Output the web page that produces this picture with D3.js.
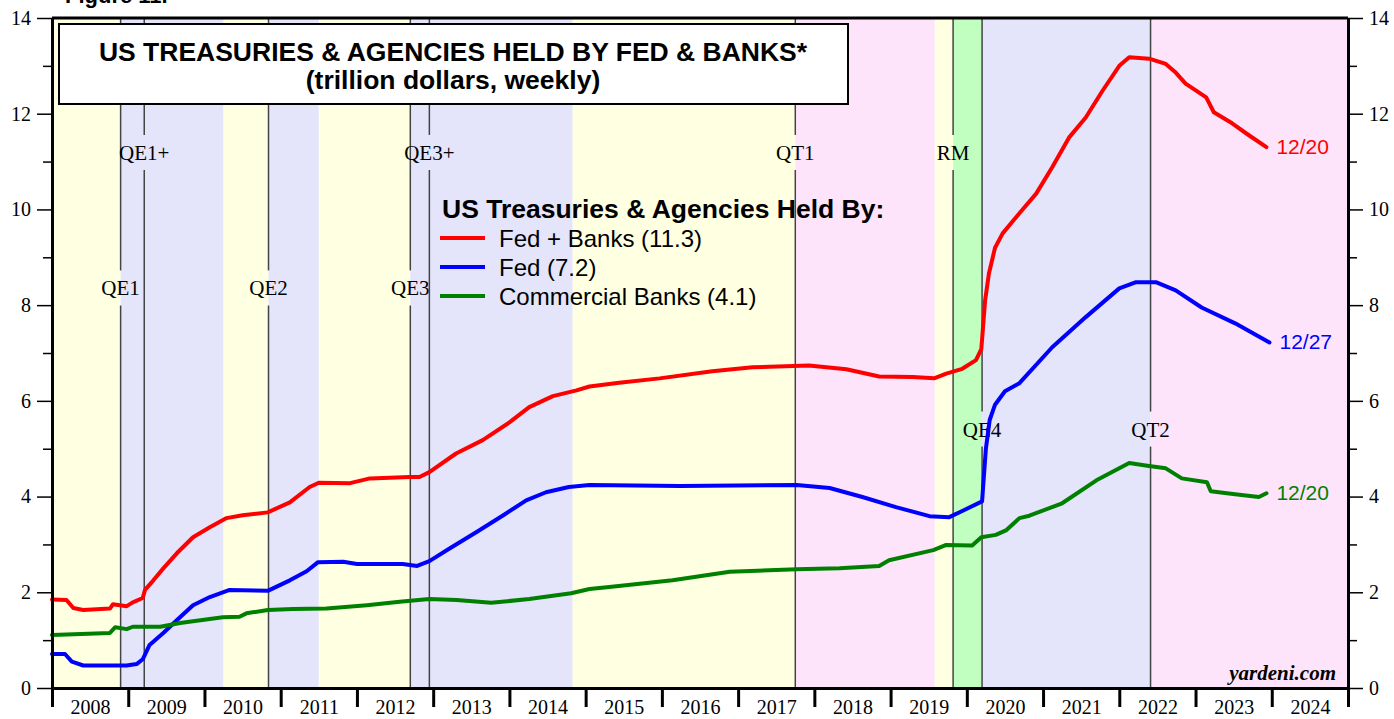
<!DOCTYPE html>
<html>
<head>
<meta charset="utf-8">
<script src="https://cdnjs.cloudflare.com/ajax/libs/d3/7.8.5/d3.min.js"></script>
<style>
  body { margin: 0; background: #fff; }
</style>
</head>
<body>
<div id="chart"></div>
<script>
// values: decimal years, trillion dollars
var fedBanksT = [2008.0, 2008.19, 2008.28, 2008.41, 2008.76, 2008.80, 2008.98, 2009.06, 2009.19, 2009.22, 2009.33, 2009.46, 2009.64, 2009.85, 2010.07, 2010.29, 2010.50, 2010.83, 2011.12, 2011.38, 2011.50, 2011.91, 2012.17, 2012.69, 2012.82, 2012.95, 2013.30, 2013.65, 2014.00, 2014.26, 2014.57, 2014.88, 2015.05, 2015.44, 2015.97, 2016.66, 2017.19, 2017.93, 2018.42, 2018.85, 2019.29, 2019.57, 2019.73, 2019.94, 2020.12, 2020.19, 2020.24, 2020.29, 2020.37, 2020.47, 2020.69, 2020.91, 2021.12, 2021.34, 2021.56, 2021.78, 2022.00, 2022.13, 2022.39, 2022.61, 2022.74, 2022.87, 2023.14, 2023.24, 2023.48, 2023.70, 2023.93];
var fedBanksV = [1.85, 1.84, 1.67, 1.63, 1.66, 1.75, 1.71, 1.79, 1.88, 2.05, 2.25, 2.50, 2.82, 3.15, 3.36, 3.55, 3.61, 3.67, 3.88, 4.20, 4.29, 4.28, 4.38, 4.41, 4.41, 4.51, 4.90, 5.18, 5.55, 5.87, 6.10, 6.22, 6.30, 6.38, 6.47, 6.62, 6.70, 6.74, 6.66, 6.51, 6.50, 6.47, 6.57, 6.67, 6.85, 7.08, 8.10, 8.66, 9.20, 9.50, 9.92, 10.33, 10.88, 11.50, 11.92, 12.48, 13.00, 13.18, 13.15, 13.04, 12.86, 12.63, 12.34, 12.03, 11.80, 11.55, 11.30];

var fedT = [2008.0, 2008.17, 2008.26, 2008.41, 2008.98, 2009.11, 2009.19, 2009.28, 2009.46, 2009.64, 2009.85, 2010.07, 2010.33, 2010.83, 2011.12, 2011.34, 2011.49, 2011.82, 2012.0, 2012.6, 2012.79, 2012.95, 2013.22, 2013.57, 2013.92, 2014.22, 2014.48, 2014.78, 2015.05, 2016.24, 2017.77, 2018.2, 2018.63, 2019.07, 2019.51, 2019.77, 2019.94, 2020.2, 2020.25, 2020.3, 2020.37, 2020.5, 2020.69, 2021.12, 2021.56, 2022.0, 2022.22, 2022.48, 2022.74, 2023.08, 2023.52, 2023.97];
var fedV = [0.71, 0.71, 0.55, 0.47, 0.47, 0.50, 0.60, 0.90, 1.15, 1.42, 1.73, 1.90, 2.05, 2.03, 2.25, 2.44, 2.63, 2.64, 2.59, 2.59, 2.55, 2.65, 2.92, 3.26, 3.61, 3.92, 4.09, 4.20, 4.24, 4.22, 4.24, 4.18, 3.99, 3.78, 3.59, 3.57, 3.70, 3.90, 5.00, 5.60, 5.92, 6.20, 6.37, 7.12, 7.75, 8.35, 8.48, 8.48, 8.31, 7.95, 7.62, 7.22];

var banksT = [2008.0, 2008.76, 2008.83, 2008.98, 2009.06, 2009.42, 2009.68, 2010.24, 2010.46, 2010.55, 2010.83, 2011.16, 2011.6, 2012.13, 2012.56, 2012.95, 2013.31, 2013.76, 2014.26, 2014.81, 2015.05, 2015.31, 2016.14, 2016.89, 2017.77, 2018.33, 2018.85, 2018.98, 2019.56, 2019.73, 2020.07, 2020.19, 2020.38, 2020.52, 2020.69, 2020.82, 2021.25, 2021.7, 2022.13, 2022.39, 2022.61, 2022.82, 2023.15, 2023.2, 2023.52, 2023.83, 2023.93];
var banksV = [1.11, 1.15, 1.27, 1.23, 1.28, 1.28, 1.36, 1.48, 1.49, 1.56, 1.63, 1.65, 1.66, 1.73, 1.80, 1.86, 1.84, 1.78, 1.86, 1.98, 2.07, 2.11, 2.25, 2.43, 2.48, 2.50, 2.55, 2.67, 2.88, 2.99, 2.98, 3.15, 3.20, 3.30, 3.55, 3.60, 3.86, 4.34, 4.70, 4.64, 4.59, 4.38, 4.30, 4.11, 4.05, 3.99, 4.07];

var seriesNames = ["Fed + Banks (11.3)", "Fed (7.2)", "Commercial Banks (4.1)"];
var endLabels = ["12/20", "12/27", "12/20"];

// policy regimes shaded in the background
var bandStart = [2008.0, 2008.90, 2010.25, 2010.84, 2011.50, 2012.70, 2014.83, 2017.75, 2019.58, 2019.82, 2020.20, 2022.41];
var bandEnd   = [2008.90, 2010.25, 2010.84, 2011.50, 2012.70, 2014.83, 2017.75, 2019.58, 2019.82, 2020.20, 2022.41, 2025.0];
var bandKind  = ["none", "qe", "none", "qe", "none", "qe", "none", "qt", "none", "rm", "qe", "qt"];

var eventNames = ["QE1", "QE1+", "QE2", "QE3", "QE3+", "QT1", "RM", "QE4", "QT2"];
var eventDates = [2008.90, 2009.21, 2010.84, 2012.70, 2012.95, 2017.75, 2019.82, 2020.20, 2022.41];
var eventRow   = [1, 0, 1, 1, 0, 0, 0, 2, 2];

var years = d3.range(2008, 2026);
var yMajor = d3.range(0, 15, 2);
var yMinor = d3.range(1, 14, 2);

// set the dimensions and margins of the graph
var margin = {top: 18, right: 46, bottom: 31, left: 52},
    width = 1394 - margin.left - margin.right,
    height = 719 - margin.top - margin.bottom;

var svg = d3.select("#chart")
  .append("svg")
    .attr("width", 1394)
    .attr("height", 719)
    .style("font-family", "'Liberation Sans', Arial, sans-serif");

// figure caption, cut off by the top edge as in the original
svg.append("text")
    .attr("x", 65)
    .attr("y", 3)
    .attr("font-weight", "bold")
    .attr("font-size", 22)
    .text("Figure 11.");

var g = svg.append("g")
    .attr("transform", "translate(" + margin.left + "," + margin.top + ")");

var x = d3.scaleLinear().domain([2008, 2025]).range([0, width]);
var y = d3.scaleLinear().domain([0, 14]).range([height, 0]);

var bandColor = {none: "#ffffe2", qe: "#e4e4fb", qt: "#fde4fb", rm: "#c0ffc0"};
var rowValue = [11.18, 8.35, 5.4];

// background bands
g.selectAll("rect.band")
  .data(bandStart)
  .enter().append("rect")
    .attr("class", "band")
    .attr("x", function(d) { return x(d); })
    .attr("y", 0)
    .attr("width", function(d, i) { return x(bandEnd[i]) - x(d); })
    .attr("height", height)
    .attr("fill", function(d, i) { return bandColor[bandKind[i]]; });

// event lines, split around their labels
eventDates.forEach(function(d, i) {
  var ly = y(rowValue[eventRow[i]]);
  g.append("line")
    .attr("x1", x(d)).attr("x2", x(d))
    .attr("y1", 0).attr("y2", ly - 18)
    .attr("stroke", "#444").attr("stroke-width", 1.5);
  g.append("line")
    .attr("x1", x(d)).attr("x2", x(d))
    .attr("y1", ly + 17).attr("y2", height)
    .attr("stroke", "#444").attr("stroke-width", 1.5);
  g.append("text")
    .attr("x", x(d))
    .attr("y", ly + 7)
    .attr("text-anchor", "middle")
    .attr("font-family", "'Liberation Serif', 'Times New Roman', serif")
    .attr("font-size", 21)
    .text(eventNames[i]);
});

// the three series
var series = [
  {t: fedBanksT, v: fedBanksV, color: "#ff0000"},
  {t: fedT, v: fedV, color: "#0000ff"},
  {t: banksT, v: banksV, color: "#008000"}
];

var valueline = d3.line()
    .x(function(d) { return x(d[0]); })
    .y(function(d) { return y(d[1]); });

series.forEach(function(s, i) {
  var pts = s.t.map(function(t, j) { return [t, s.v[j]]; });
  g.append("path")
    .attr("fill", "none")
    .attr("stroke", s.color)
    .attr("stroke-width", 4)
    .attr("stroke-linejoin", "round")
    .attr("stroke-linecap", "round")
    .attr("d", valueline(pts));
  var last = pts[pts.length - 1];
  g.append("text")
    .attr("x", x(last[0]) + 10)
    .attr("y", y(last[1]) + 7)
    .attr("fill", s.color)
    .attr("font-size", 21)
    .text(endLabels[i]);
});

// frame and axes
g.append("line")
    .attr("x1", 0).attr("x2", width)
    .attr("y1", 0).attr("y2", 0)
    .attr("stroke", "#000").attr("stroke-width", 3);

function styleAxis(sel, w) {
  sel.select(".domain").attr("stroke-width", 3);
  sel.selectAll(".tick line").attr("stroke-width", w);
  sel.selectAll("text")
    .attr("font-family", "'Liberation Serif', 'Times New Roman', serif")
    .attr("font-size", 20)
    .attr("fill", "#000");
}

g.append("g")
    .call(d3.axisLeft(y).tickValues(yMinor).tickSize(9).tickSizeOuter(0).tickFormat(""))
    .call(styleAxis, 1.5);
g.append("g")
    .call(d3.axisLeft(y).tickValues(yMajor).tickSize(15).tickSizeOuter(0).tickPadding(6).tickFormat(d3.format("d")))
    .call(styleAxis, 1.5);

g.append("g")
    .attr("transform", "translate(" + width + ",0)")
    .call(d3.axisRight(y).tickValues(yMinor).tickSize(9).tickSizeOuter(0).tickFormat(""))
    .call(styleAxis, 1.5);
g.append("g")
    .attr("transform", "translate(" + width + ",0)")
    .call(d3.axisRight(y).tickValues(yMajor).tickSize(15).tickSizeOuter(0).tickPadding(6).tickFormat(d3.format("d")))
    .call(styleAxis, 1.5);

g.append("g")
    .attr("transform", "translate(0," + height + ")")
    .call(d3.axisBottom(x).tickValues(years).tickSize(19).tickSizeOuter(0).tickFormat(""))
    .call(styleAxis, 3);

var yearLabels = g.append("g")
    .attr("transform", "translate(0," + height + ")")
    .call(d3.axisBottom(x).tickValues(years.slice(0, -1).map(function(d) { return d + 0.5; }))
      .tickSize(0).tickPadding(12).tickFormat(function(d) { return Math.floor(d); }))
    .call(styleAxis, 0);
yearLabels.select(".domain").remove();

// title box
svg.append("rect")
    .attr("x", 59).attr("y", 24)
    .attr("width", 789).attr("height", 80)
    .attr("fill", "#fff")
    .attr("stroke", "#000").attr("stroke-width", 2);
svg.append("text")
    .attr("x", 453).attr("y", 61)
    .attr("text-anchor", "middle")
    .attr("font-weight", "bold").attr("font-size", 26.5)
    .text("US TREASURIES & AGENCIES HELD BY FED & BANKS*");
svg.append("text")
    .attr("x", 453).attr("y", 89)
    .attr("text-anchor", "middle")
    .attr("font-weight", "bold").attr("font-size", 26.5)
    .text("(trillion dollars, weekly)");

// legend
var legend = svg.append("g").attr("transform", "translate(440,218)");
legend.append("text")
    .attr("x", 2).attr("y", 0)
    .attr("font-weight", "bold").attr("font-size", 26.5)
    .text("US Treasuries & Agencies Held By:");
seriesNames.forEach(function(name, i) {
  legend.append("line")
    .attr("x1", 0).attr("x2", 45)
    .attr("y1", 20 + i * 29).attr("y2", 20 + i * 29)
    .attr("stroke", series[i].color).attr("stroke-width", 4);
  legend.append("text")
    .attr("x", 59).attr("y", 29 + i * 29)
    .attr("font-size", 24)
    .text(name);
});

svg.append("text")
    .attr("x", 1336).attr("y", 680)
    .attr("text-anchor", "end")
    .attr("font-family", "'Liberation Serif', 'Times New Roman', serif")
    .attr("font-weight", "bold").attr("font-style", "italic")
    .attr("font-size", 21)
    .text("yardeni.com");
</script>
</body>
</html>
